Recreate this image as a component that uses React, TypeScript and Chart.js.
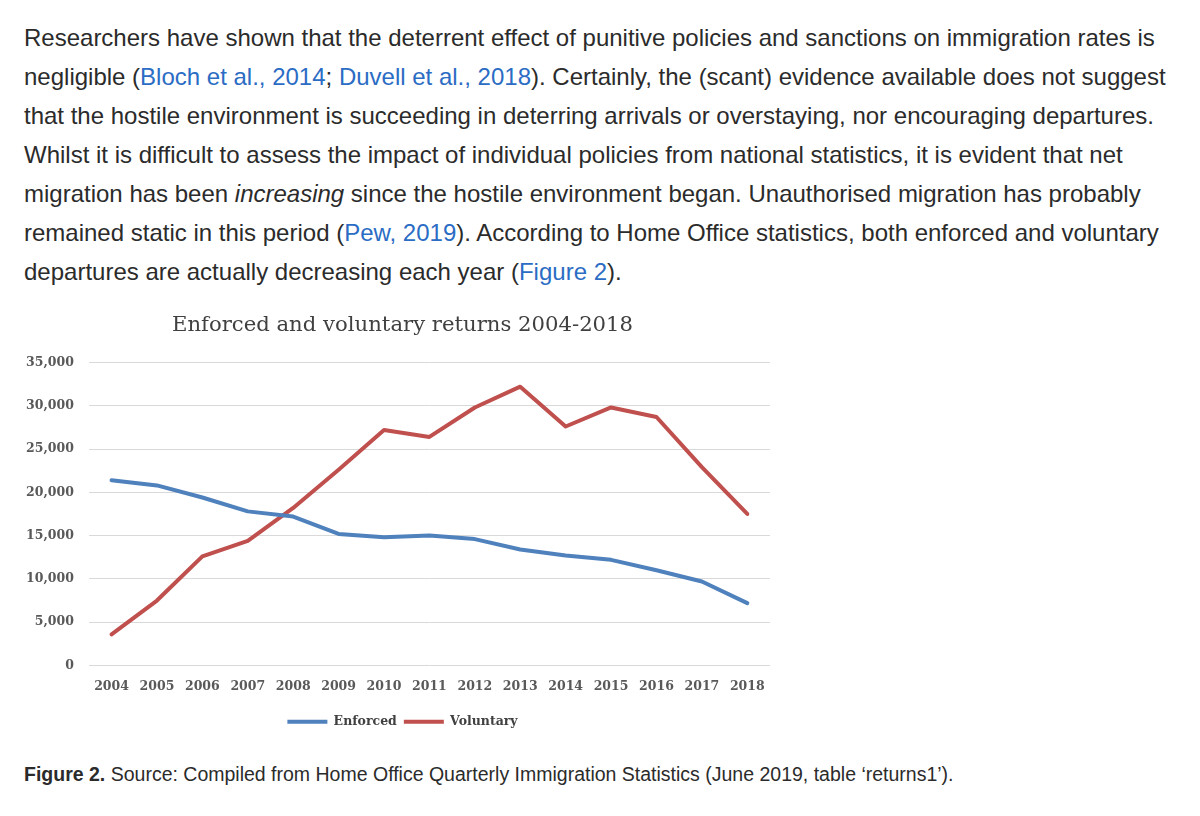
import React, { useEffect, useRef } from "react";
import { Chart, registerables } from "chart.js";

Chart.register(...registerables);

const years = ["2004","2005","2006","2007","2008","2009","2010","2011","2012","2013","2014","2015","2016","2017","2018"];
const enforced = [21400, 20800, 19400, 17800, 17200, 15200, 14800, 15000, 14600, 13400, 12700, 12200, 11000, 9700, 7200];
const voluntary = [3600, 7500, 12600, 14400, 18200, 22600, 27200, 26400, 29800, 32200, 27600, 29800, 28700, 22900, 17500];
const yTicks = [0, 5000, 10000, 15000, 20000, 25000, 30000, 35000];

const chartTitle = "Enforced and voluntary returns 2004-2018";

function ReturnsChart() {
  const ref = useRef<HTMLCanvasElement | null>(null);
  useEffect(() => {
    if (!ref.current) return;
    const serif = "'DejaVu Serif', 'Liberation Serif', serif";
    const chart = new Chart(ref.current, {
      type: "line",
      data: {
        labels: years,
        datasets: [
          {
            label: "Enforced",
            data: enforced,
            borderColor: "#4f81bd",
            backgroundColor: "#4f81bd",
            borderWidth: 4,
            pointRadius: 0,
            tension: 0,
            borderJoinStyle: "round",
            borderCapStyle: "round",
          },
          {
            label: "Voluntary",
            data: voluntary,
            borderColor: "#c0504d",
            backgroundColor: "#c0504d",
            borderWidth: 4,
            pointRadius: 0,
            tension: 0,
            borderJoinStyle: "round",
            borderCapStyle: "round",
          },
        ],
      },
      options: {
        animation: false,
        responsive: false,
        maintainAspectRatio: false,
        layout: { padding: { left: 0, right: 6, top: 8, bottom: 4 } },
        plugins: {
          title: {
            display: true,
            text: chartTitle,
            color: "#404040",
            font: { family: serif, size: 21.2, weight: "normal" },
            padding: { top: 0, bottom: 24 },
          },
          legend: {
            position: "bottom",
            labels: {
              usePointStyle: true,
              pointStyle: "line",
              pointStyleWidth: 40,
              boxWidth: 40,
              color: "#404040",
              font: { family: serif, size: 12.5, weight: "bold" },
              padding: 7,
            },
          },
          tooltip: { enabled: false },
        },
        scales: {
          x: {
            offset: true,
            grid: { display: false, drawTicks: false },
            border: { display: false },
            ticks: {
              color: "#595959",
              font: { family: serif, size: 12.5, weight: "bold" },
              padding: 14,
              maxRotation: 0,
              autoSkip: false,
            },
          },
          y: {
            min: 0,
            max: 35000,
            afterBuildTicks: (axis: any) => {
              axis.ticks = yTicks.map((v) => ({ value: v }));
            },
            grid: { color: "#d9d9d9", lineWidth: 1, drawTicks: false },
            border: { display: false },
            ticks: {
              color: "#595959",
              font: { family: serif, size: 12.5, weight: "bold" },
              padding: 15,
              callback: (v: any) => Number(v).toLocaleString("en-US"),
            },
          },
          yRightSpace: {
            type: "linear",
            position: "right",
            display: true,
            grid: { display: false, drawTicks: false },
            border: { display: false },
            ticks: { display: false },
            afterFit: (axis: any) => {
              axis.width = 24;
            },
          },
        },
      },
    });
    return () => chart.destroy();
  }, []);
  return <canvas ref={ref} width={789} height={437} style={{ width: 789, height: 437, display: "block" }} />;
}

const linkStyle: React.CSSProperties = { color: "#2b6cc4", textDecoration: "none" };

export default function App() {
  return (
    <div style={{ position: "absolute", left: 0, top: 0, width: 1200, height: 816, background: "#fff", overflow: "hidden" }}>
      <div
        style={{
          position: "absolute",
          left: 24,
          top: 18,
          fontFamily: "'Liberation Sans', Arial, sans-serif",
          fontSize: 24,
          lineHeight: "39px",
          color: "#2b2b2b",
          whiteSpace: "nowrap",
        }}
      >
        Researchers have shown that the deterrent effect of punitive policies and sanctions on immigration rates is
        <br />
        negligible (<span style={linkStyle}>Bloch et al., 2014</span>; <span style={linkStyle}>Duvell et al., 2018</span>). Certainly, the (scant) evidence available does not suggest
        <br />
        that the hostile environment is succeeding in deterring arrivals or overstaying, nor encouraging departures.
        <br />
        Whilst it is difficult to assess the impact of individual policies from national statistics, it is evident that net
        <br />
        migration has been <i>increasing</i> since the hostile environment began. Unauthorised migration has probably
        <br />
        remained static in this period (<span style={linkStyle}>Pew, 2019</span>). According to Home Office statistics, both enforced and voluntary
        <br />
        departures are actually decreasing each year (<span style={linkStyle}>Figure 2</span>).
      </div>
      <div style={{ position: "absolute", left: 11, top: 305 }}>
        <ReturnsChart />
      </div>
      <div
        style={{
          position: "absolute",
          left: 24,
          top: 763,
          fontFamily: "'Liberation Sans', Arial, sans-serif",
          fontSize: 19.5,
          color: "#2b2b2b",
          whiteSpace: "nowrap",
        }}
      >
        <b>Figure 2.</b> Source: Compiled from Home Office Quarterly Immigration Statistics (June 2019, table ‘returns1’).
      </div>
    </div>
  );
}
